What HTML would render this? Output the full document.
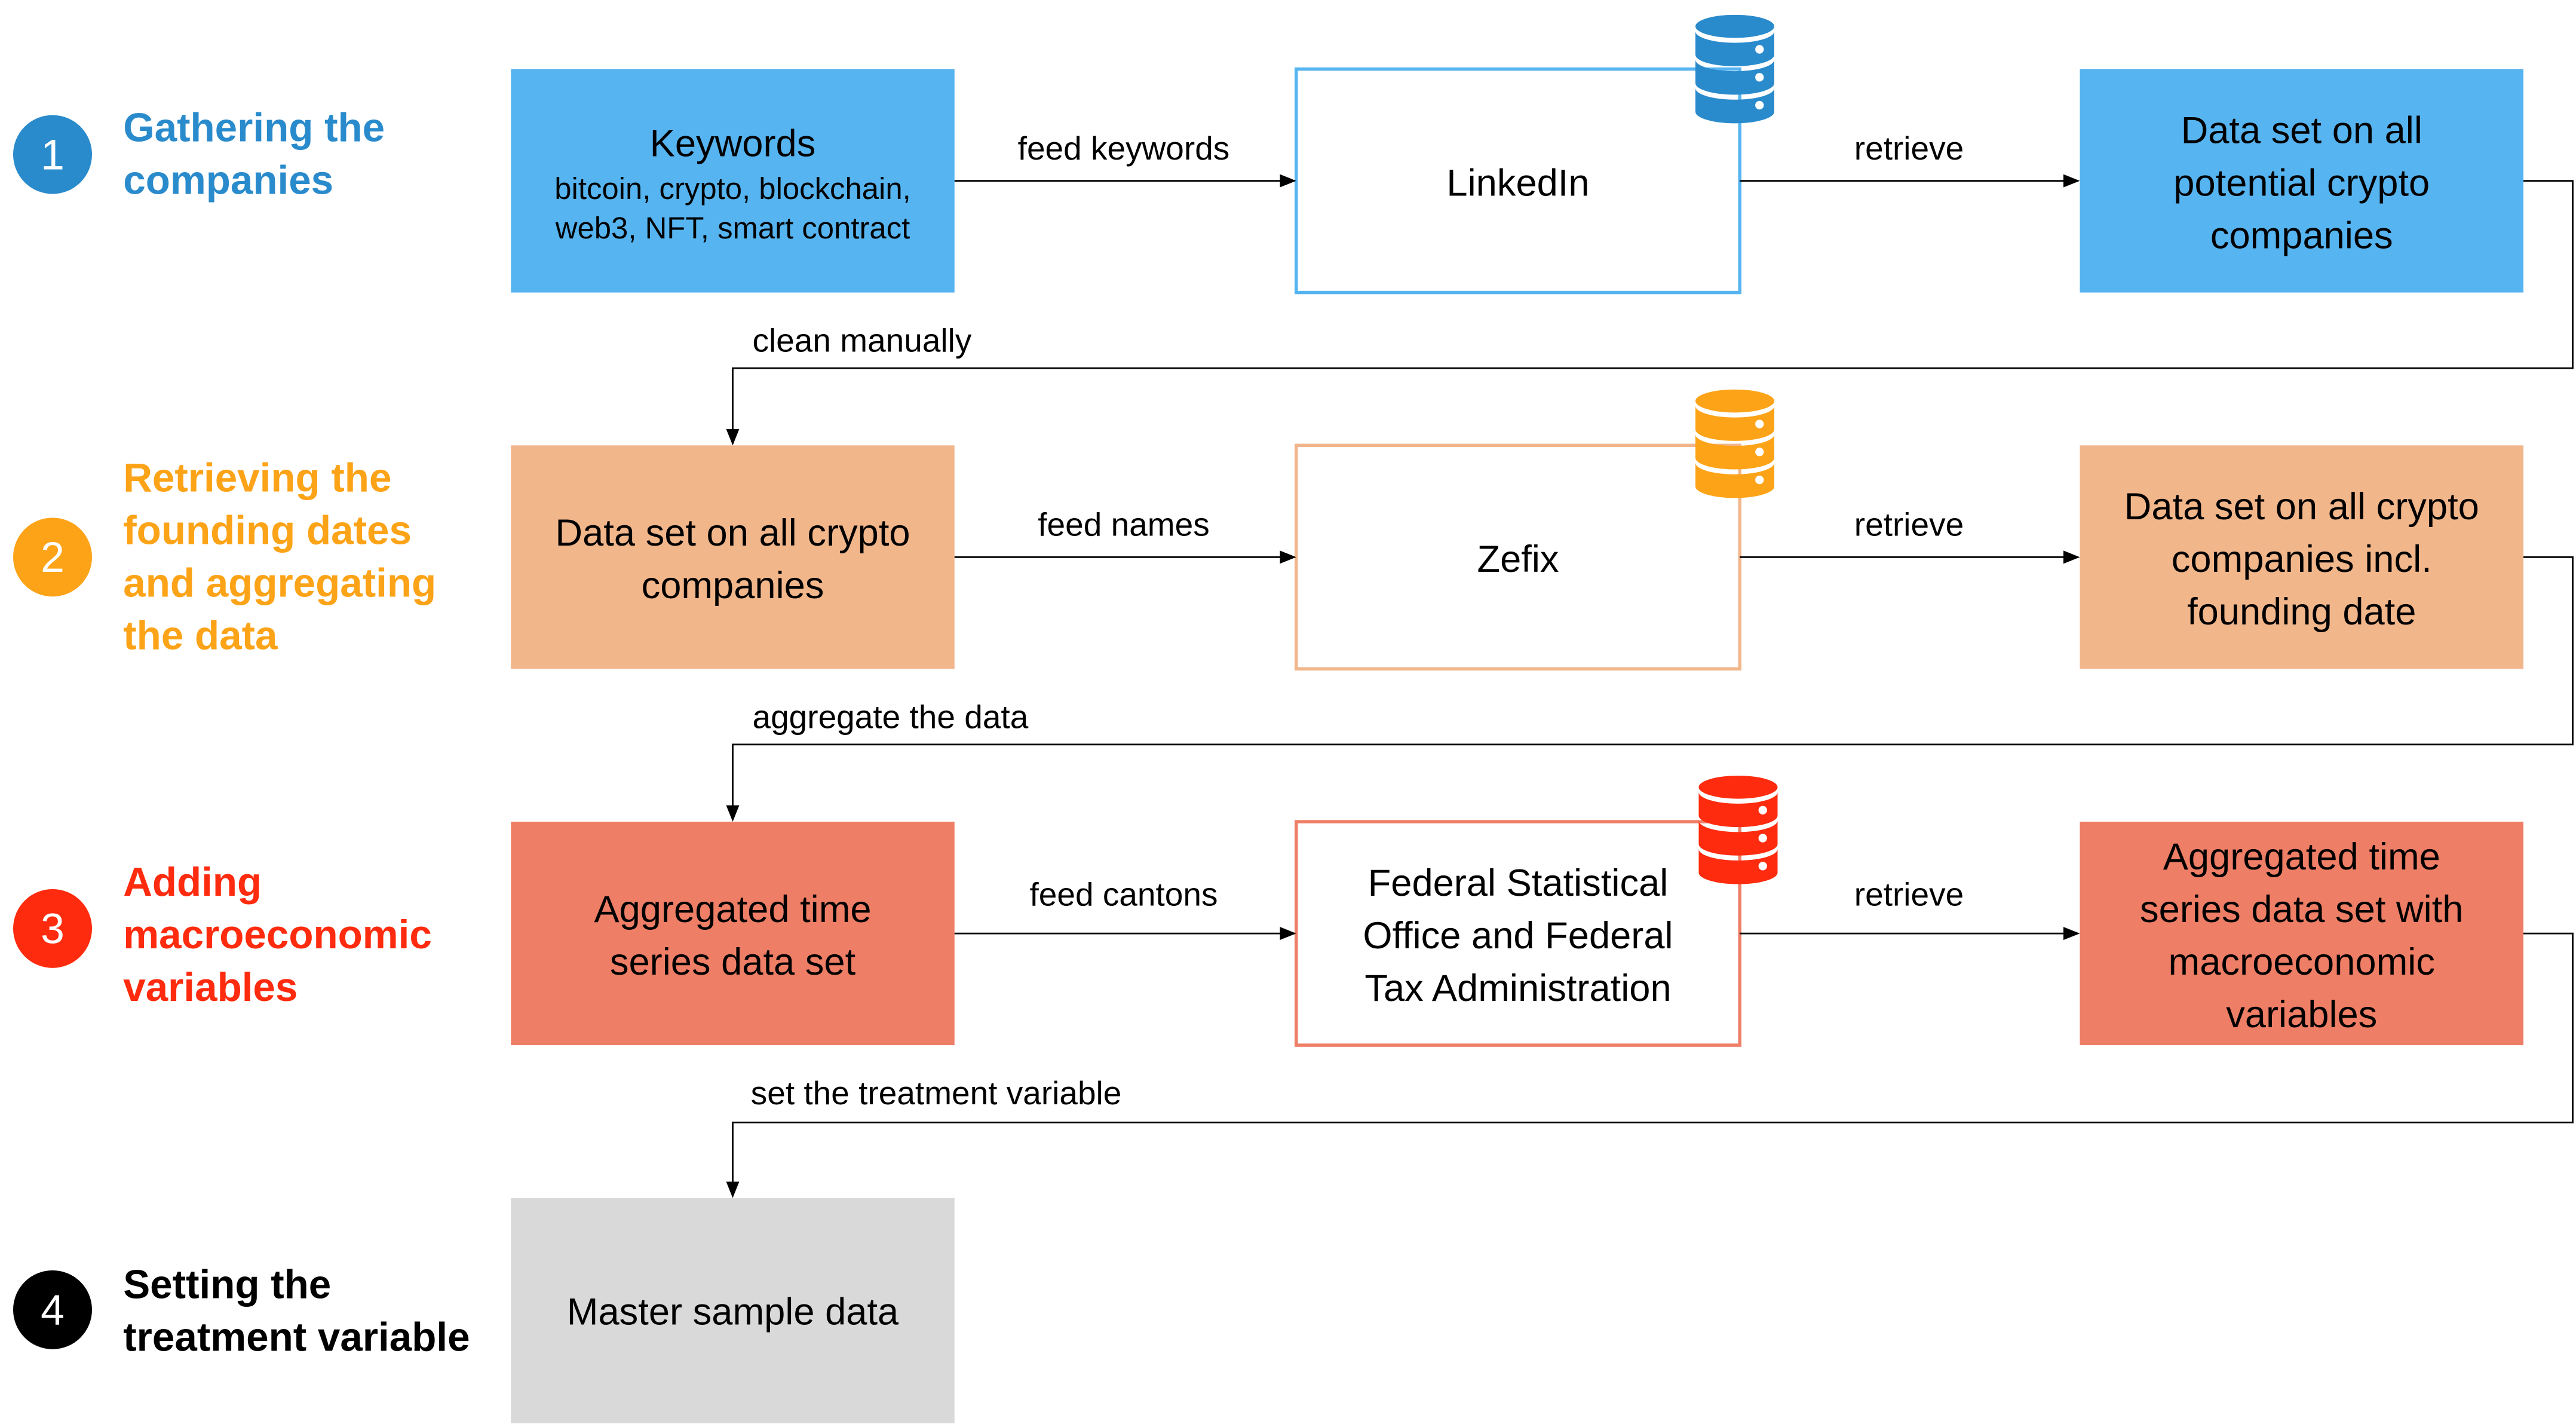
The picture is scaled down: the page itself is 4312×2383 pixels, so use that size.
<!DOCTYPE html>
<html><head><meta charset="utf-8"><style>
html,body{margin:0;padding:0;background:#fff}
svg{display:block}
text{font-family:"Liberation Sans",sans-serif}
.t{font-size:23px;fill:#000;text-anchor:middle}
.s{font-size:18.5px;fill:#000;text-anchor:middle}
.l{font-size:20px;fill:#000;text-anchor:middle}
.la{font-size:20px;fill:#000}
.h{font-size:24.5px;font-weight:bold}
.n{font-size:26px;fill:#fff;text-anchor:middle}
.ln{stroke:#000;stroke-width:1;fill:none}
</style></head><body>
<svg width="4312" height="2383" viewBox="0 0 1568 866.5" xmlns="http://www.w3.org/2000/svg">
<defs>
<marker id="a" markerWidth="10" markerHeight="8" refX="9" refY="4" orient="auto" markerUnits="userSpaceOnUse">
<path d="M0,0 L10,4 L0,8 Z" fill="#000"/></marker>
<symbol id="db" viewBox="0 0 48 66" overflow="visible">
<ellipse cx="24" cy="7" rx="24" ry="7"/>
<path d="M0,10 A24,7 0 0 0 48,10 L48,24.3 A24,7 0 0 1 0,24.3 Z"/>
<path d="M0,27.3 A24,7 0 0 0 48,27.3 L48,41.6 A24,7 0 0 1 0,41.6 Z"/>
<path d="M0,44.6 A24,7 0 0 0 48,44.6 L48,59 A24,7 0 0 1 0,59 Z"/>
<circle cx="39" cy="21" r="2.6" fill="#fff"/>
<circle cx="39" cy="38" r="2.6" fill="#fff"/>
<circle cx="39" cy="55" r="2.6" fill="#fff"/>
</symbol>
</defs>

<circle cx="32" cy="94" r="24" fill="#2a8bcc"/><text class="n" x="32" y="103">1</text>
<circle cx="32" cy="339" r="24" fill="#fca317"/><text class="n" x="32" y="348">2</text>
<circle cx="32" cy="565" r="24" fill="#fe2b0e"/><text class="n" x="32" y="574">3</text>
<circle cx="32" cy="797" r="24" fill="#000"/><text class="n" x="32" y="806">4</text>

<text class="h" fill="#2a8bcc"><tspan x="75" y="86">Gathering the</tspan><tspan x="75" y="118">companies</tspan></text>
<text class="h" fill="#fca317"><tspan x="75" y="299">Retrieving the</tspan><tspan x="75" y="331">founding dates</tspan><tspan x="75" y="363">and aggregating</tspan><tspan x="75" y="395">the data</tspan></text>
<text class="h" fill="#fe2b0e"><tspan x="75" y="545">Adding</tspan><tspan x="75" y="577">macroeconomic</tspan><tspan x="75" y="609">variables</tspan></text>
<text class="h" fill="#000"><tspan x="75" y="790">Setting the</tspan><tspan x="75" y="822">treatment variable</tspan></text>

<rect x="311" y="42" width="270" height="136" fill="#56b4f0"/>
<text class="t" x="446" y="95">Keywords</text>
<text class="s" x="446" y="121">bitcoin, crypto, blockchain,</text>
<text class="s" x="446" y="145">web3, NFT, smart contract</text>
<rect x="789" y="42" width="270" height="136" fill="#fff" stroke="#56b4f0" stroke-width="2"/>
<text class="t" x="924" y="119">LinkedIn</text>
<rect x="1266" y="42" width="270" height="136" fill="#56b4f0"/>
<text class="t"><tspan x="1401" y="87">Data set on all</tspan><tspan x="1401" y="119">potential crypto</tspan><tspan x="1401" y="151">companies</tspan></text>
<use href="#db" x="1032" y="9" width="48" height="66" fill="#2a8bcc"/>

<line class="ln" x1="581" y1="110" x2="788" y2="110" marker-end="url(#a)"/>
<text class="l" x="684" y="97">feed keywords</text>
<line class="ln" x1="1059" y1="110" x2="1265" y2="110" marker-end="url(#a)"/>
<text class="l" x="1162" y="97">retrieve</text>
<polyline class="ln" points="1536,110 1566,110 1566,224 446,224 446,270" marker-end="url(#a)"/>
<text class="la" x="458" y="214">clean manually</text>

<rect x="311" y="271" width="270" height="136" fill="#f2b68b"/>
<text class="t"><tspan x="446" y="332">Data set on all crypto</tspan><tspan x="446" y="364">companies</tspan></text>
<rect x="789" y="271" width="270" height="136" fill="#fff" stroke="#f2b68b" stroke-width="2"/>
<text class="t" x="924" y="348">Zefix</text>
<rect x="1266" y="271" width="270" height="136" fill="#f2b68b"/>
<text class="t"><tspan x="1401" y="316">Data set on all crypto</tspan><tspan x="1401" y="348">companies incl.</tspan><tspan x="1401" y="380">founding date</tspan></text>
<use href="#db" x="1032" y="237" width="48" height="66" fill="#fca317"/>

<line class="ln" x1="581" y1="339" x2="788" y2="339" marker-end="url(#a)"/>
<text class="l" x="684" y="326">feed names</text>
<line class="ln" x1="1059" y1="339" x2="1265" y2="339" marker-end="url(#a)"/>
<text class="l" x="1162" y="326">retrieve</text>
<polyline class="ln" points="1536,339 1566,339 1566,453 446,453 446,499" marker-end="url(#a)"/>
<text class="la" x="458" y="443">aggregate the data</text>

<rect x="311" y="500" width="270" height="136" fill="#ee7e66"/>
<text class="t"><tspan x="446" y="561">Aggregated time</tspan><tspan x="446" y="593">series data set</tspan></text>
<rect x="789" y="500" width="270" height="136" fill="#fff" stroke="#ee7e66" stroke-width="2"/>
<text class="t"><tspan x="924" y="545">Federal Statistical</tspan><tspan x="924" y="577">Office and Federal</tspan><tspan x="924" y="609">Tax Administration</tspan></text>
<rect x="1266" y="500" width="270" height="136" fill="#ee7e66"/>
<text class="t"><tspan x="1401" y="529">Aggregated time</tspan><tspan x="1401" y="561">series data set with</tspan><tspan x="1401" y="593">macroeconomic</tspan><tspan x="1401" y="625">variables</tspan></text>
<use href="#db" x="1034" y="472" width="48" height="66" fill="#fe2b0e"/>

<line class="ln" x1="581" y1="568" x2="788" y2="568" marker-end="url(#a)"/>
<text class="l" x="684" y="551">feed cantons</text>
<line class="ln" x1="1059" y1="568" x2="1265" y2="568" marker-end="url(#a)"/>
<text class="l" x="1162" y="551">retrieve</text>
<polyline class="ln" points="1536,568 1566,568 1566,683 446,683 446,728" marker-end="url(#a)"/>
<text class="la" x="457" y="672">set the treatment variable</text>

<rect x="311" y="729" width="270" height="137" fill="#d9d9d9"/>
<text class="t" x="446" y="806">Master sample data</text>
</svg>
</body></html>
